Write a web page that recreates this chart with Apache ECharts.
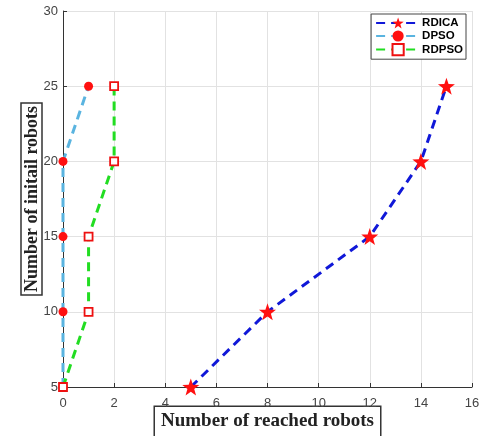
<!DOCTYPE html>
<html>
<head>
<meta charset="utf-8">
<script src="https://cdn.jsdelivr.net/npm/echarts@6/dist/echarts.min.js"></script>
<style>html,body{margin:0;padding:0;background:#fff;}#c{width:479px;height:436px;}</style>
</head>
<body>
<div id="c"></div>
<script>
var yValues = [5, 10, 15, 20, 25];
var rdicaX = [5, 8, 12, 14, 15];
var dpsoX = [0, 0, 0, 0, 1];
var rdpsoX = [0, 1, 1, 2, 2];
var seriesNames = ['RDICA', 'DPSO', 'RDPSO'];

function pairs(xs) { return xs.map(function (x, i) { return [x, yValues[i]]; }); }

var chart = echarts.init(document.getElementById('c'), null, {renderer: 'canvas'});
chart.setOption({
  animation: false,
  backgroundColor: '#fff',
  grid: {left: 63, right: 7, top: 11, bottom: 49, containLabel: false, outerBoundsMode: 'none'},
  legend: {
    orient: 'vertical',
    right: 13, top: 14,
    data: seriesNames,
    backgroundColor: '#fff',
    borderColor: '#444',
    borderWidth: 1,
    borderRadius: 0,
    padding: [3, 3, 3, 4],
    itemGap: 1,
    itemWidth: 44,
    itemHeight: 14,
    textStyle: {fontFamily: 'Liberation Sans, Arial', fontWeight: 'bold', fontSize: 11.5, color: '#000', padding: [0, 0, 0, -3]}
  },
  xAxis: {
    type: 'value', min: 0, max: 16, interval: 2,
    name: 'Number of reached robots',
    nameLocation: 'middle', nameGap: 20, nameMoveOverlap: false,
    nameTextStyle: {fontFamily: 'Liberation Serif, Times New Roman', fontWeight: 'bold', fontSize: 19, color: '#222',
      borderColor: '#333', borderWidth: 1.5, padding: [5, 6, 6, 6], backgroundColor: '#fff'},
    axisLine: {show: true, lineStyle: {color: '#333', width: 1}},
    axisTick: {show: true, inside: true, length: 4, lineStyle: {color: '#333'}},
    axisLabel: {color: '#444', fontSize: 13, fontFamily: 'Liberation Sans, Arial', margin: 10},
    splitLine: {show: true, lineStyle: {color: '#e2e2e2', width: 1}}
  },
  yAxis: {
    type: 'value', min: 5, max: 30, interval: 5,
    name: 'Number of initail robots',
    nameLocation: 'middle', nameGap: 21, nameMoveOverlap: false,
    nameTextStyle: {fontFamily: 'Liberation Serif, Times New Roman', fontWeight: 'bold', fontSize: 18, color: '#222',
      borderColor: '#333', borderWidth: 1.5, padding: [2, 3, 1, 3]},
    axisLine: {show: true, lineStyle: {color: '#333', width: 1}},
    axisTick: {show: true, inside: true, length: 4, lineStyle: {color: '#333'}},
    axisLabel: {color: '#444', fontSize: 13, fontFamily: 'Liberation Sans, Arial', margin: 5},
    splitLine: {show: true, lineStyle: {color: '#e2e2e2', width: 1}}
  },
  series: [
    {
      name: seriesNames[0], type: 'line', data: pairs(rdicaX), clip: false,
      symbol: 'path://M0,-10 L2.35,-3.24 L9.51,-3.09 L3.8,1.24 L5.88,8.09 L0,4 L-5.88,8.09 L-3.8,1.24 L-9.51,-3.09 L-2.35,-3.24 Z',
      symbolSize: 17,
      itemStyle: {color: '#ff1010', borderWidth: 0},
      lineStyle: {color: '#1018d8', width: 3, type: [9, 6]}, z: 3
    },
    {
      name: seriesNames[1], type: 'line', data: pairs(dpsoX), clip: false,
      symbol: 'circle', symbolSize: 9,
      itemStyle: {color: '#ff1010', borderWidth: 0},
      lineStyle: {color: '#5ab4e0', width: 3, type: [9, 6]}, z: 2
    },
    {
      name: seriesNames[2], type: 'line', data: pairs(rdpsoX), clip: false,
      symbol: 'rect', symbolSize: 8,
      itemStyle: {color: '#ffffff', borderColor: '#ee1010', borderWidth: 1.8},
      lineStyle: {color: '#22dd22', width: 3, type: [9, 6]}, z: 4
    }
  ]
});
</script>
</body>
</html>
